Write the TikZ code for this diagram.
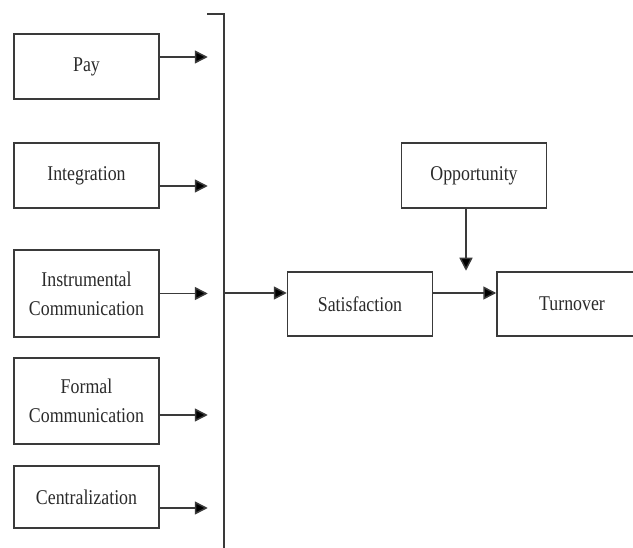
\documentclass[tikz,border=0pt]{standalone}
\usepackage{fontspec}
\setmainfont[FakeStretch=0.85]{Liberation Serif}
\usepackage{xcolor}
\usetikzlibrary{shapes,arrows.meta,positioning,calc}
\definecolor{edge}{HTML}{3A3A3A}
\definecolor{label}{HTML}{2A2A2A}

\begin{document}
\begin{tikzpicture}[x=1pt, y=-1pt,
  factor/.style={rectangle, draw=edge, line width=1.5pt, minimum width=145pt, align=center, inner sep=0pt, text=label, font=\fontsize{21}{29}\selectfont},
  link/.style={-{Triangle[length=13pt,width=13pt,fill=black]}, edge, line width=1.5pt},
  bus/.style={draw=edge, line width=1.5pt}
]
\useasboundingbox (0,0) rectangle (633,548);
\clip (0,0) rectangle (633,548);

% factors on the left
\node[factor, minimum height=65pt] (pay) at (86.5,66.5) {Pay};
\node[factor, minimum height=65pt] (integ) at (86.5,175.5) {Integration};
\node[factor, minimum height=87pt] (instr) at (86.5,293.5) {Instrumental\\Communication};
\node[factor, minimum height=86pt] (formal) at (86.5,401) {Formal\\Communication};
\node[factor, minimum height=62pt] (central) at (86.5,497) {Centralization};

% outcome chain
\node[factor, minimum height=64pt] (satis) at (360,304) {Satisfaction};
\node[factor, minimum height=65pt] (opport) at (474,175.5) {Opportunity};
\node[factor, minimum width=150pt, minimum height=64pt] (turn) at (572,304) {Turnover};

% collecting line
\coordinate (tick) at (207,14);
\coordinate (bustop) at (224,14);
\coordinate (busbot) at (224,548);
\coordinate (junction) at (224,293);
\draw[bus] (tick) -- (bustop) -- (busbot);

\draw[link] ([yshift=9.5pt]pay.east) -- ++(48,0);
\draw[link] ([yshift=-10.5pt]integ.east) -- ++(48,0);
\draw[link] (instr.east) -- ++(48,0);
\draw[link] ([yshift=-14pt]formal.east) -- ++(48,0);
\draw[link] ([yshift=-11pt]central.east) -- ++(48,0);

\draw[link] (junction) -- (junction -| satis.west);
\draw[link] ([yshift=11pt]satis.east) -- ([yshift=11pt]turn.west);
\draw[link] ([xshift=-8pt]opport.south) -- ++(0,62);
\end{tikzpicture}
\end{document}
